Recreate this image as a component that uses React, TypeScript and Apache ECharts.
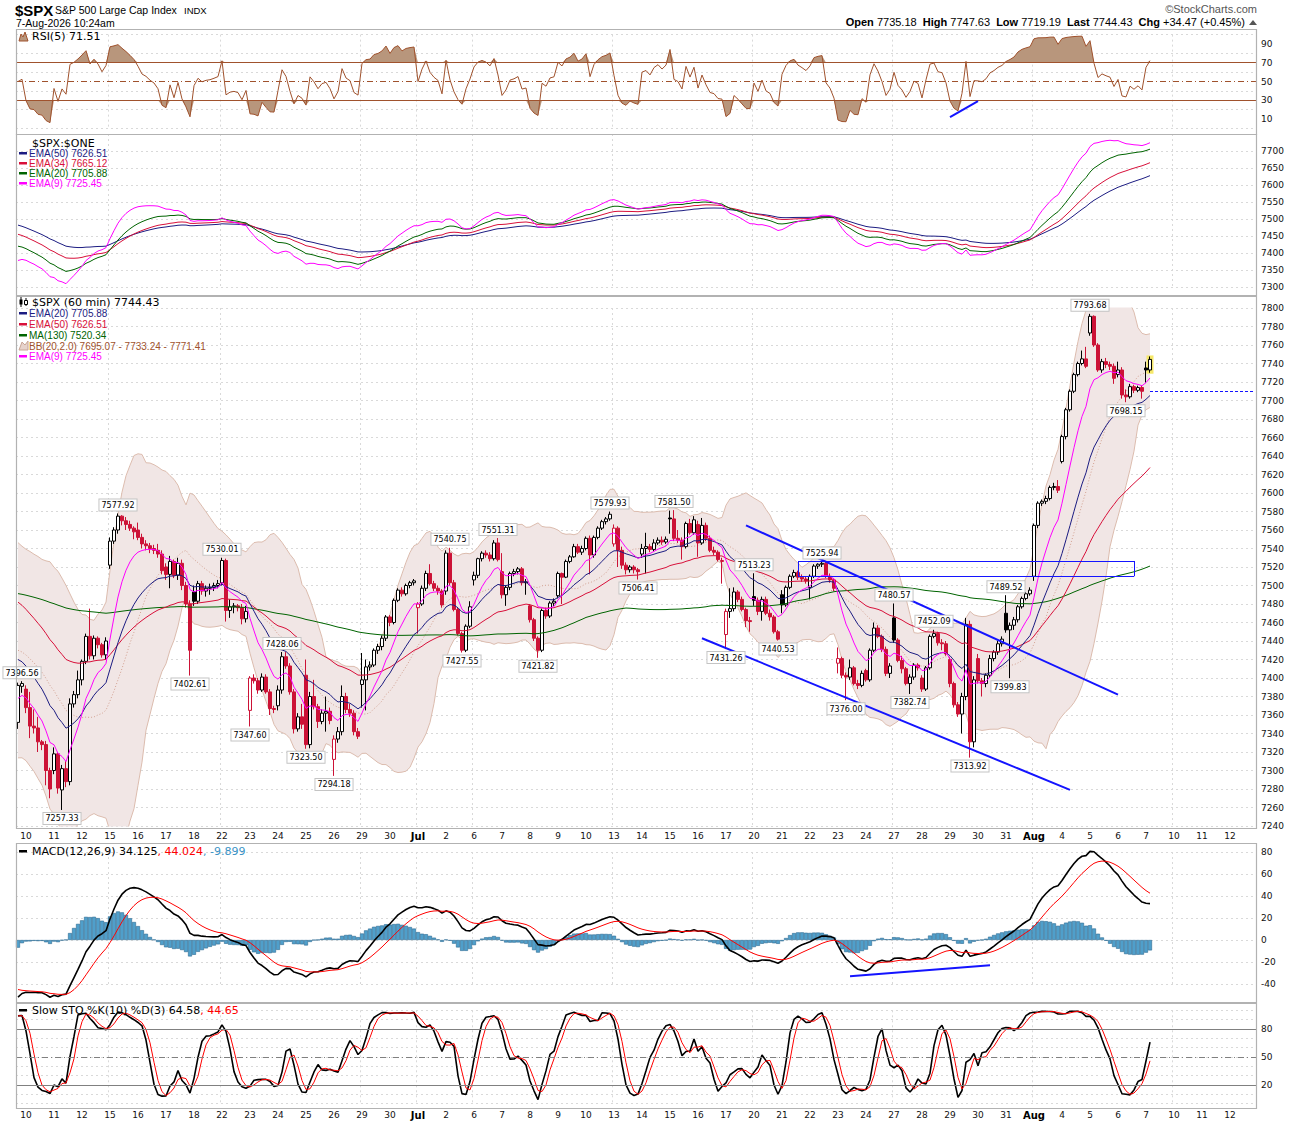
import React, { useEffect, useRef } from "react";
import * as echarts from "echarts";

// ---- 60-minute bars: [open, high, low, close], grouped by week ----
const WEEK_JUN09 = [
  [7352,7395,7345,7392],[7391,7396.56,7384,7394],
  [7388,7392,7362,7368],[7368,7385,7335,7348],[7348,7366,7340,7346],[7346,7358,7320,7331],[7331,7333,7322,7328],[7328,7332,7284,7300],[7300,7303,7270,7280],
  [7300,7325,7296,7318],[7318,7320,7275,7281],[7279,7306,7257.33,7302],[7302,7310,7282,7288],[7288,7378,7284,7372],[7372,7386,7368,7382],[7382,7408,7378,7398],
  [7398,7420,7392,7418],[7418,7448,7415,7445],[7445,7475,7420,7424],[7424,7446,7420,7443],[7443,7445,7432,7436],[7436,7438,7422,7425],[7425,7444,7420,7440],
];
const WEEK_JUN15 = [
  [7522,7552,7518,7548],[7548,7563,7545,7560],[7560,7577.92,7556,7575],[7575,7576,7565,7570],[7570,7574,7560,7566],[7566,7570,7559,7562],[7562,7564,7550,7558],
  [7560,7568,7549,7552],[7552,7556,7540,7545],[7545,7549,7538,7543],[7543,7546,7535,7540],[7540,7544,7534,7538],[7538,7545,7530,7534],[7534,7538,7512,7516],
  [7520,7524,7506,7512],[7512,7532,7497,7526],[7526,7528,7508,7511],[7511,7530,7506,7524],[7524,7528,7495,7500],[7500,7504,7476,7480],[7480,7484,7402.61,7430],
  [7493,7500,7478,7483],[7483,7505,7480,7502],[7502,7505,7490,7494],[7494,7500,7488,7497],[7497,7502,7490,7498],[7498,7503,7494,7500],[7500,7506,7497,7502],
];
const WEEK_JUN22 = [
  [7503,7530.01,7500,7527],[7527,7529,7461,7473],[7473,7485,7465,7477],[7477,7481,7470,7478],[7478,7480,7472,7476],[7476,7480,7458,7464],[7464,7478,7460,7472],
  [7365,7402,7347.6,7400],[7400,7404,7394,7397],[7397,7400,7383,7387],[7387,7405,7385,7401],[7401,7404,7383,7385],[7385,7388,7360,7367],[7367,7370,7362,7366],
  [7370,7392,7365,7387],[7387,7428.06,7383,7423],[7423,7428,7410,7413],[7413,7416,7382,7385],[7385,7388,7340,7345],[7345,7362,7342,7358],[7358,7372,7345,7350],
  [7403,7420,7323.5,7328],[7328,7385,7324,7380],[7380,7398,7366,7369],[7369,7372,7346,7353],[7353,7366,7350,7362],[7362,7380,7342,7364],[7364,7368,7350,7354],
  [7312,7338,7294.18,7334],[7334,7347,7330,7342],[7342,7392,7338,7380],[7380,7384,7362,7366],[7366,7372,7358,7362],[7362,7365,7338,7342],[7342,7346,7334,7337],
];
const WEEK_JUN29 = [
  [7393,7427,7368,7398],[7398,7420,7365,7412],[7412,7418,7408,7414],[7414,7432,7412,7430],[7430,7437,7426,7434],[7434,7446,7430,7443],[7443,7468,7440,7466],
  [7466,7468,7456,7460],[7460,7486,7458,7484],[7484,7497,7482,7495],[7495,7498,7488,7491],[7491,7502,7489,7500],[7500,7505,7497,7503],[7503,7507,7500,7505],
  [7476,7482,7448,7480],[7480,7500,7478,7497],[7497,7516,7494,7513],[7513,7523,7500,7502],[7502,7505,7494,7497],[7497,7500,7490,7494],[7494,7496,7476,7479],
  [7494,7538,7490,7535],[7535,7540.75,7500,7503],[7503,7506,7472,7474],[7474,7476,7446,7448],[7448,7450,7427.55,7430],[7430,7458,7428,7456],[7456,7483,7454,7477],
];
const WEEK_JUL06 = [
  [7506,7515,7500,7511],[7511,7530,7508,7529],[7529,7537,7526,7535],[7535,7538,7530,7533],[7533,7536,7526,7529],[7529,7549,7527,7546],[7546,7551.31,7526,7528],
  [7515,7535,7486,7490],[7490,7500,7478,7498],[7498,7515,7495,7513],[7513,7518,7510,7515],[7515,7520,7512,7518],[7518,7520,7500,7503],[7503,7507,7490,7504],
  [7478,7480,7460,7463],[7463,7465,7440,7443],[7443,7445,7421.82,7430],[7430,7475,7428,7473],[7473,7476,7464,7467],[7467,7483,7465,7481],[7481,7486,7478,7483],
  [7489,7515,7486,7513],[7513,7514,7480,7509],[7509,7528,7508,7526],[7526,7533,7524,7531],[7531,7545,7530,7542],[7542,7545,7534,7536],[7536,7543,7533,7540],
  [7540,7553,7538,7551],[7551,7554,7512,7533],[7533,7554,7530,7552],[7552,7564,7550,7562],[7562,7571,7560,7569],[7569,7574,7566,7572],[7572,7579.93,7570,7577],
];
const WEEK_JUL13 = [
  [7545,7566,7542,7562],[7562,7564,7520,7538],[7538,7542,7518,7522],[7522,7525,7512,7517],[7517,7522,7514,7520],[7520,7522,7513,7517],[7517,7519,7506.41,7515],
  [7534,7545,7530,7540],[7540,7557,7513,7542],[7542,7545,7536,7539],[7539,7550,7537,7546],[7546,7552,7544,7549],[7549,7553,7544,7547],[7547,7553,7545,7550],
  [7573,7581,7556,7572],[7572,7581.5,7548,7551],[7551,7560,7546,7549],[7549,7552,7528,7542],[7542,7569,7540,7567],[7567,7572,7555,7557],[7557,7575,7555,7571],
  [7566,7570,7531,7546],[7546,7573,7544,7565],[7565,7568,7548,7551],[7551,7554,7536,7538],[7538,7542,7533,7536],[7536,7538,7526,7528],[7526,7530,7502,7527],
  [7447,7475,7431.26,7472],[7472,7497,7465,7475],[7475,7498,7472,7493],[7493,7495,7482,7485],[7485,7488,7472,7474],[7474,7476,7455,7462],[7462,7466,7450,7461],
];
const WEEK_JUL20 = [
  [7488,7513.23,7478,7484],[7484,7487,7468,7472],[7472,7488,7462,7485],[7485,7488,7468,7470],[7470,7474,7462,7466],[7466,7468,7448,7450],[7450,7452,7440.53,7442],
  [7490,7495,7470,7479],[7479,7500,7477,7498],[7498,7512,7496,7510],[7510,7517,7508,7514],[7514,7516,7506,7509],[7509,7512,7504,7507],[7507,7510,7502,7505],
  [7498,7512,7485,7510],[7510,7523,7508,7521],[7521,7524,7518,7523],[7523,7525.94,7520,7524],[7524,7526,7508,7510],[7510,7513,7503,7506],[7506,7508,7494,7497],
  [7416,7433,7405,7421],[7421,7423,7400,7403],[7403,7406,7376,7401],[7401,7420,7398,7411],[7411,7413,7392,7394],[7394,7398,7388,7392],[7392,7408,7390,7405],
  [7408,7410,7396,7398],[7398,7432,7396,7430],[7430,7460,7428,7454],[7454,7457,7443,7445],[7445,7447,7428,7431],[7431,7434,7402,7405],[7405,7416,7400,7413],
];
const WEEK_JUL27 = [
  [7465,7480.57,7438,7441],[7441,7443,7417,7419],[7419,7424,7405,7410],[7410,7412,7392,7394],[7394,7404,7382.74,7401],[7401,7416,7398,7414],[7414,7416,7408,7411],
  [7400,7403,7385,7388],[7388,7413,7386,7411],[7411,7447,7409,7445],[7445,7452.09,7443,7448],[7448,7450,7435,7438],[7438,7442,7430,7437],[7437,7440,7424,7426],
  [7420,7423,7390,7394],[7394,7396,7368,7371],[7371,7374,7358,7361],[7361,7384,7340,7380],[7380,7465,7376,7458],[7458,7462,7313.92,7331],[7331,7402,7325,7398],
  [7421,7426,7394,7397],[7397,7400,7380,7394],[7394,7405,7390,7403],[7403,7425,7400,7421],[7421,7430,7418,7428],[7428,7440,7425,7437],[7437,7445,7434,7442],
  [7470,7489.52,7449,7452],[7452,7460,7399.83,7457],[7457,7466,7452,7463],[7463,7479,7460,7477],[7477,7488,7475,7486],[7486,7493,7484,7491],[7491,7498,7489,7495],
];
const WEEK_AUG03 = [
  [7510,7567,7505,7565],[7565,7591,7562,7589],[7589,7593,7586,7591],[7591,7597,7588,7594],[7594,7608,7592,7606],[7606,7611,7603,7607],[7607,7614,7600,7603],
  [7634,7663,7632,7661],[7661,7692,7658,7690],[7690,7712,7688,7710],[7710,7730,7708,7728],[7728,7742,7726,7740],[7740,7754,7738,7745],[7745,7758,7735,7737],
  [7773,7793.68,7770,7791],[7791,7792,7758,7760],[7760,7762,7731,7733],[7733,7745,7730,7742],[7742,7746,7735,7739],[7739,7742,7733,7737],[7737,7740,7718,7724],
  [7728,7742,7725,7733],[7733,7736,7702,7706],[7706,7712,7698.15,7704],[7704,7718,7702,7715],[7715,7717,7708,7711],[7711,7716,7709,7714],[7714,7716,7702,7709.96],
  [7735.18,7742,7719.19,7733],[7733,7747.63,7730,7744.43],
];

// ---- x axis: trading days (Jun 9 partial, then 7 hourly bars per day) ----
const DAY_LABELS = ["9","10","11","12","15","16","17","18","22","23","24","25","26","29","30","Jul","2","6","7","8","9","10","13","14","15","16","17","20","21","22","23","24","27","28","29","30","31","Aug","4","5","6","7","10","11","12"];
const GRID_DAYS = [4, 8, 13, 15, 17, 22, 27, 32, 37, 42];
const FIRST_DAY_BARS = 2;
const BARS_PER_DAY = 7;

// ---- tick labels ----
const RSI_TICKS = [10, 30, 50, 70, 90];
const STO_TICKS = [20, 50, 80];

// ---- indicator seeds (values read at the left edge) ----
const SEED_EMA9 = 7378, SEED_EMA20 = 7420, SEED_EMA34 = 7455, SEED_EMA50 = 7482;
const SEED_MA130 = 7492, SEED_BB_MEAN = 7432, SEED_BB_STD = 59;
const SEED_EMA12 = 7400, SEED_EMA26 = 7452, SEED_SIGNAL = -45;
const SEED_RSI_GAIN = 5, SEED_RSI_LOSS = 5;

// ---- annotations ----
const PRICE_NOTES: [number, number, boolean][] = [
  [1,7396.56,true],[11,7257.33,false],[25,7577.92,true],[43,7402.61,false],[51,7530.01,true],[58,7347.60,false],
  [66,7428.06,true],[72,7323.50,false],[79,7294.18,false],[108,7540.75,true],[111,7427.55,false],[120,7551.31,true],
  [130,7421.82,false],[148,7579.93,true],[155,7506.41,false],[164,7581.50,true],[177,7431.26,false],[184,7513.23,true],
  [190,7440.53,false],[201,7525.94,true],[207,7376.00,false],[219,7480.57,true],[223,7382.74,false],[229,7452.09,true],
  [238,7313.92,false],[247,7489.52,true],[248,7399.83,false],[268,7793.68,true],[277,7698.15,false],
];
const CHANNEL_UPPER = [[182, 7565], [275, 7382]];
const CHANNEL_LOWER = [[171, 7443], [263, 7279]];
const RESIST_BOX_X = [195, 279];
const RESIST_BOX_Y = [7510, 7526.5];
const RSI_TREND = [[233, 12], [240, 29]];
const MACD_TREND = [[208, -33], [243, -23]];
const PREV_CLOSE = 7709.96;

const FONT_V = '"DejaVu Sans", Verdana, sans-serif';
const FONT_T = '"Liberation Sans", Arial, sans-serif';
const RED = "#cc1236";
const NAVY = "#1c1c82";
const CRIMSON = "#d8103a";
const DKGREEN = "#006400";
const MAGENTA = "#ff00ff";
const BROWN = "#a0522d";
const BLUE = "#1414ff";

function buildOption() {
  const BARS = [...WEEK_JUN09, ...WEEK_JUN15, ...WEEK_JUN22, ...WEEK_JUN29, ...WEEK_JUL06, ...WEEK_JUL13, ...WEEK_JUL20, ...WEEK_JUL27, ...WEEK_AUG03];
  const H = BARS.map((b) => b[1]);
  const L = BARS.map((b) => b[2]);
  const C = BARS.map((b) => b[3]);
  const LAST = BARS.length - 1;

  const CATS: string[] = [];
  const DAY_START: boolean[] = [];
  const CAT_LABEL: string[] = [];
  const GRID_START: boolean[] = [];
  DAY_LABELS.forEach((lab, d) => {
    const n = d === 0 ? FIRST_DAY_BARS : BARS_PER_DAY;
    for (let j = 0; j < n; j++) {
      CATS.push(d + "_" + j);
      DAY_START.push(d > 0 && j === 0);
      CAT_LABEL.push(lab);
      GRID_START.push(j === 0 && GRID_DAYS.indexOf(d) >= 0);
    }
  });

  const ema = (src: number[], n: number, seed: number) => {
    const a = 2 / (n + 1);
    let e = seed;
    return src.map((v, i) => {
      if (i > 0) e = e + a * (v - e);
      return e;
    });
  };
  const smaSeeded = (src: number[], n: number, seed: number) =>
    src.map((_, i) => {
      let s = 0;
      for (let j = i - n + 1; j <= i; j++) s += j < 0 ? seed : src[j];
      return s / n;
    });
  const smaAvail = (src: number[], n: number) =>
    src.map((_, i) => {
      const s0 = Math.max(0, i - n + 1);
      let t = 0;
      for (let j = s0; j <= i; j++) t += src[j];
      return t / (i - s0 + 1);
    });

  const ema9 = ema(C, 9, SEED_EMA9);
  const ema20 = ema(C, 20, SEED_EMA20);
  const ema34 = ema(C, 34, SEED_EMA34);
  const ema50 = ema(C, 50, SEED_EMA50);
  const ma130 = smaSeeded(C, 130, SEED_MA130);

  const bbMid: number[] = [], bbUp: number[] = [], bbLo: number[] = [];
  C.forEach((_, i) => {
    const n = 20;
    let sum = 0, cnt = 0;
    for (let j = i - n + 1; j <= i; j++) if (j >= 0) { sum += C[j]; cnt++; }
    const miss = n - cnt;
    const mean = (sum + miss * SEED_BB_MEAN) / n;
    let v = 0;
    for (let j = i - n + 1; j <= i; j++) if (j >= 0) v += (C[j] - mean) ** 2;
    v += miss * (SEED_BB_STD ** 2 + (SEED_BB_MEAN - mean) ** 2);
    const sd = Math.sqrt(v / n);
    bbMid.push(mean);
    bbUp.push(mean + 2 * sd);
    bbLo.push(mean - 2 * sd);
  });

  const e12 = ema(C, 12, SEED_EMA12);
  const e26 = ema(C, 26, SEED_EMA26);
  const macd = e12.map((v, i) => v - e26[i]);
  const signal = ema(macd, 9, SEED_SIGNAL);
  const hist = macd.map((v, i) => v - signal[i]);

  let ag = SEED_RSI_GAIN, al = SEED_RSI_LOSS;
  const rsi = C.map((c, i) => {
    if (i > 0) {
      const d = c - C[i - 1];
      ag = (ag * 4 + Math.max(d, 0)) / 5;
      al = (al * 4 + Math.max(-d, 0)) / 5;
    }
    return al === 0 ? 100 : 100 - 100 / (1 + ag / al);
  });

  const fastK = C.map((c, i) => {
    let hh = -Infinity, ll = Infinity;
    for (let j = Math.max(0, i - 9); j <= i; j++) { hh = Math.max(hh, H[j]); ll = Math.min(ll, L[j]); }
    return hh === ll ? 50 : ((c - ll) / (hh - ll)) * 100;
  });
  const slowK = smaAvail(fastK, 3);
  const slowD = smaAvail(slowK, 3);

  const candleData = BARS.map((b, i) => {
    const [o, h, l, c] = b;
    const pc = i > 0 ? C[i - 1] : o;
    const up = c >= o;
    const higher = c >= pc;
    const fill = up ? "#ffffff" : higher ? "#000000" : RED;
    const stroke = higher ? "#000000" : RED;
    return { value: [o, c, l, h], itemStyle: { color: fill, color0: fill, borderColor: stroke, borderColor0: stroke } };
  });

  const gridLine = { color: "#d9d9d9", type: [2, 3] as any, width: 1 };
  const xAxis = (gi: number, showLabel: boolean, margin: number) => ({
    type: "category",
    gridIndex: gi,
    data: CATS,
    boundaryGap: true,
    axisLine: { show: false },
    axisTick: { show: false },
    splitLine: { show: true, interval: (i: number) => GRID_START[i], lineStyle: gridLine },
    axisLabel: showLabel
      ? {
          show: true,
          interval: (i: number) => DAY_START[i],
          margin,
          fontSize: 9,
          fontFamily: FONT_V,
          color: "#111",
          formatter: (_v: string, i: number) => {
            const t = CAT_LABEL[i];
            return t === "Jul" || t === "Aug" ? "{b|" + t + "}" : t;
          },
          rich: { b: { fontWeight: "bold", fontSize: 10, fontFamily: FONT_V, color: "#000" } },
        }
      : { show: false },
  });
  const yAxis = (gi: number, min: number, max: number, interval: number, label: any) => ({
    type: "value",
    gridIndex: gi,
    position: "right",
    min,
    max,
    interval,
    axisLine: { show: false },
    axisTick: { show: false },
    splitLine: { show: true, lineStyle: gridLine },
    axisLabel: { margin: 5, fontSize: 9, fontFamily: FONT_V, color: "#111", formatter: (v: number) => String(v), ...label },
  });

  const line = (gi: number, data: number[], color: string, width = 1, extra: any = {}) => ({
    type: "line",
    xAxisIndex: gi,
    yAxisIndex: gi,
    data,
    symbol: "none",
    silent: true,
    clip: false,
    z: 3,
    lineStyle: { color, width },
    itemStyle: { color },
    ...extra,
  });

  const hidden = { lineStyle: { width: 0, opacity: 0 } };
  const RSI_FILL = "#b8967c";
  const blueLine = { color: BLUE, width: 2, type: "solid" };
  const thinBlue = { color: BLUE, width: 1, type: "solid" };
  const pair = (pts: number[][], style: any) => [
    { coord: pts[0], lineStyle: style },
    { coord: pts[1], lineStyle: style },
  ];
  const [bx0, bx1] = RESIST_BOX_X;
  const [by0, by1] = RESIST_BOX_Y;

  const series: any[] = [
    // RSI panel
    line(0, C.map(() => 70), BROWN, 0, { stack: "ru", z: 1, ...hidden }),
    line(0, rsi.map((r) => Math.max(r - 70, 0)), RSI_FILL, 0, { stack: "ru", z: 1, ...hidden, areaStyle: { color: RSI_FILL, opacity: 1 } }),
    line(0, rsi.map((r) => Math.min(r, 30)), BROWN, 0, { stack: "rl", z: 1, ...hidden }),
    line(0, rsi.map((r) => 30 - Math.min(r, 30)), RSI_FILL, 0, { stack: "rl", z: 1, ...hidden, areaStyle: { color: RSI_FILL, opacity: 1 } }),
    line(0, rsi, BROWN, 1, {
      markLine: {
        silent: true,
        symbol: "none",
        label: { show: false },
        data: [
          { yAxis: 70, lineStyle: { color: BROWN, width: 1, type: "solid" } },
          { yAxis: 30, lineStyle: { color: BROWN, width: 1, type: "solid" } },
          { yAxis: 50, lineStyle: { color: BROWN, width: 1, type: [6, 3, 1, 3] } },
          pair(RSI_TREND, blueLine),
        ],
      },
    }),
    // $SPX:$ONE EMA panel
    line(1, ema50, NAVY),
    line(1, ema34, CRIMSON),
    line(1, ema20, DKGREEN),
    line(1, ema9, MAGENTA),
    // Main price panel: Bollinger band behind everything
    line(2, bbLo, "#dcbcae", 1, { stack: "bb", clip: true, z: 1 }),
    line(2, bbUp.map((u, i) => u - bbLo[i]), "#dcbcae", 1, { stack: "bb", clip: true, z: 1, areaStyle: { color: "#f1e6e5", opacity: 1 } }),
    line(2, bbMid, "#d2a090", 1, { clip: true, z: 1, lineStyle: { color: "#d2a090", width: 1, type: [1, 2] } }),
    {
      type: "custom",
      xAxisIndex: 2,
      yAxisIndex: 2,
      silent: true,
      z: 1.5,
      data: [[LAST, L[LAST], H[LAST]]],
      renderItem: (_p: any, api: any) => {
        const top = api.coord([api.value(0), api.value(2)]);
        const bot = api.coord([api.value(0), api.value(1)]);
        return { type: "rect", shape: { x: top[0] - 3.5, y: top[1] - 1, width: 7, height: bot[1] - top[1] + 2 }, style: { fill: "#f6e86a" } };
      },
    },
    {
      type: "candlestick",
      xAxisIndex: 2,
      yAxisIndex: 2,
      data: candleData,
      barWidth: 3,
      silent: true,
      z: 2,
      itemStyle: { borderWidth: 1 },
    },
    line(2, ma130, DKGREEN, 1, { clip: true }),
    line(2, ema50, CRIMSON, 1, { clip: true }),
    line(2, ema20, NAVY, 1, { clip: true }),
    line(2, ema9, MAGENTA, 1, {
      clip: true,
      markPoint: {
        silent: true,
        symbol: "circle",
        symbolSize: 0,
        data: PRICE_NOTES.map(([k, p, up]) => ({
          coord: [k, p],
          value: p,
          itemStyle: { color: "rgba(0,0,0,0)" },
          label: {
            show: true,
            position: up ? "top" : "bottom",
            distance: 3,
            formatter: p.toFixed(2),
            fontSize: 8,
            fontFamily: FONT_V,
            color: "#000",
            backgroundColor: "#ffffff",
            borderColor: "#c4c4c4",
            borderWidth: 1,
            padding: [2, 2, 1, 2],
          },
        })),
      },
      markLine: {
        silent: true,
        symbol: "none",
        label: { show: false },
        data: [
          pair(CHANNEL_UPPER, blueLine),
          pair(CHANNEL_LOWER, blueLine),
          pair([[bx0, by0], [bx1, by0]], thinBlue),
          pair([[bx0, by1], [bx1, by1]], thinBlue),
          pair([[bx0, by0], [bx0, by1]], thinBlue),
          pair([[bx1, by0], [bx1, by1]], thinBlue),
          pair([[LAST, PREV_CLOSE], [CATS.length - 1, PREV_CLOSE]], { color: BLUE, width: 1, type: [3, 2] }),
        ],
      },
    }),
    // MACD panel
    {
      type: "bar",
      xAxisIndex: 3,
      yAxisIndex: 3,
      data: hist,
      silent: true,
      z: 2,
      barCategoryGap: "0%",
      itemStyle: { color: "#4f9fcb", borderColor: "#2b6a92", borderWidth: 0.6 },
    },
    line(3, macd, "#000000", 1.6, {
      markLine: { silent: true, symbol: "none", label: { show: false }, data: [pair(MACD_TREND, blueLine)] },
    }),
    line(3, signal, "#ff0000", 1),
    // Slow stochastic panel
    line(4, slowK, "#000000", 1.6, {
      markLine: {
        silent: true,
        symbol: "none",
        label: { show: false },
        data: [
          { yAxis: 80, lineStyle: { color: "#808080", width: 1, type: "solid" } },
          { yAxis: 20, lineStyle: { color: "#808080", width: 1, type: "solid" } },
          { yAxis: 50, lineStyle: { color: "#808080", width: 1, type: [6, 3, 1, 3] } },
        ],
      },
    }),
    line(4, slowD, "#ff0000", 1),
  ];

  const txt = (x: number, y: number, text: string, font: string, fill = "#000", extra: any = {}) => ({
    type: "text",
    x,
    y,
    silent: true,
    z: 100,
    style: { text, font, fill, textVerticalAlign: "middle", ...extra },
  });
  const dash = (x: number, y: number, color: string) => ({
    type: "rect",
    silent: true,
    z: 100,
    shape: { x, y: y - 1, width: 8, height: 2.5 },
    style: { fill: color },
  });
  const frame = (y0: number, y1: number) => ({
    type: "rect",
    silent: true,
    z: 90,
    shape: { x: 16.5, y: y0 + 0.5, width: 1240, height: y1 - y0 },
    style: { fill: "none", stroke: "#b2b2b2", lineWidth: 1.2 },
  });
  const F11V = "11px " + FONT_V;
  const F10T = "10px " + FONT_T;

  const graphic: any[] = [
    frame(29, 134), frame(134, 295), frame(296, 828), frame(843, 1002), frame(1003, 1108),
    txt(15, 10, "$SPX", "bold 15px " + FONT_T),
    txt(55, 10, "S&P 500 Large Cap Index", "10.5px " + FONT_T),
    txt(184, 10, "INDX", "9.5px " + FONT_T),
    txt(16, 23, "7-Aug-2026 10:24am", "10.5px " + FONT_T),
    txt(1257, 9, "©StockCharts.com", "11px " + FONT_T, "#555", { textAlign: "right" }),
    txt(1245, 22, "{b|Open} 7735.18  {b|High} 7747.63  {b|Low} 7719.19  {b|Last} 7744.43  {b|Chg} +34.47 (+0.45%)", "11px " + FONT_T, "#000", {
      textAlign: "right",
      rich: { b: { font: "bold 11px " + FONT_T, fill: "#000" } },
    }),
    { type: "polygon", silent: true, z: 100, shape: { points: [[1249, 25], [1253, 20], [1257, 25]] }, style: { fill: "#555" } },
    // RSI title
    { type: "polygon", silent: true, z: 100, shape: { points: [[19, 41], [21, 34], [23, 37], [25, 32], [28, 41]] }, style: { fill: RSI_FILL, stroke: BROWN, lineWidth: 1 } },
    txt(32, 36, "RSI(5) 71.51", F11V),
    // EMA panel legend
    txt(32, 143, "$SPX:$ONE", F11V),
    dash(19, 153, NAVY), txt(29, 153, "EMA(50) 7626.51", F10T, NAVY),
    dash(19, 163, CRIMSON), txt(29, 163, "EMA(34) 7665.12", F10T, CRIMSON),
    dash(19, 173, DKGREEN), txt(29, 173, "EMA(20) 7705.88", F10T, DKGREEN),
    dash(19, 183, MAGENTA), txt(29, 183, "EMA(9) 7725.45", F10T, MAGENTA),
    // main legend
    { type: "line", silent: true, z: 100, shape: { x1: 21, y1: 297, x2: 21, y2: 307 }, style: { stroke: "#000", lineWidth: 1 } },
    { type: "rect", silent: true, z: 100, shape: { x: 19.5, y: 299.5, width: 3, height: 5 }, style: { fill: "#000" } },
    { type: "line", silent: true, z: 100, shape: { x1: 26, y1: 298, x2: 26, y2: 306 }, style: { stroke: "#000", lineWidth: 1 } },
    { type: "rect", silent: true, z: 100, shape: { x: 24.5, y: 300.5, width: 3, height: 4 }, style: { fill: "#fff", stroke: "#000", lineWidth: 1 } },
    txt(32, 302, "$SPX (60 min) 7744.43", F11V),
    dash(19, 313, NAVY), txt(29, 313, "EMA(20) 7705.88", F10T, NAVY),
    dash(19, 324, CRIMSON), txt(29, 324, "EMA(50) 7626.51", F10T, CRIMSON),
    dash(19, 335, DKGREEN), txt(29, 335, "MA(130) 7520.34", F10T, DKGREEN),
    { type: "polygon", silent: true, z: 100, shape: { points: [[19, 350], [22, 342], [25, 345], [28, 341], [28, 350]] }, style: { fill: "#e6d2cb", stroke: "#c9a595", lineWidth: 1 } },
    txt(29, 346, "BB(20,2.0) 7695.07 - 7733.24 - 7771.41", F10T, BROWN),
    dash(19, 356, MAGENTA), txt(29, 356, "EMA(9) 7725.45", F10T, MAGENTA),
    // MACD legend
    dash(19, 851, "#000"),
    txt(32, 851, "{k|MACD(12,26,9) 34.125}{r|, 44.024}{c|, -9.899}", F11V, "#000", {
      rich: { k: { font: F11V, fill: "#000" }, r: { font: F11V, fill: "#ff0000" }, c: { font: F11V, fill: "#3a93c6" } },
    }),
    // STO legend
    dash(19, 1010, "#000"),
    txt(32, 1010, "{k|Slow STO %K(10) %D(3) 64.58}{r|, 44.65}", F11V, "#000", {
      rich: { k: { font: F11V, fill: "#000" }, r: { font: F11V, fill: "#ff0000" } },
    }),
  ];

  return {
    animation: false,
    backgroundColor: "#ffffff",
    grid: [
      { left: 16, top: 34.6, width: 1240, height: 93.8 },
      { left: 16, top: 134, width: 1240, height: 153 },
      { left: 16, top: 308, width: 1240, height: 518 },
      { left: 16, top: 852, width: 1240, height: 132 },
      { left: 16, top: 1010.3, width: 1240, height: 93.4 },
    ],
    xAxis: [xAxis(0, false, 0), xAxis(1, false, 0), xAxis(2, true, 5), xAxis(3, false, 0), xAxis(4, true, 7)],
    yAxis: [
      yAxis(0, 0, 100, 20, { customValues: RSI_TICKS }),
      yAxis(1, 7300, 7750, 50, { showMaxLabel: false }),
      yAxis(2, 7240, 7800, 20, {}),
      yAxis(3, -40, 80, 20, {}),
      yAxis(4, 0, 100, 10, { customValues: STO_TICKS }),
    ],
    series,
    graphic,
  };
}

export default function App() {
  const ref = useRef<HTMLDivElement>(null);
  useEffect(() => {
    document.body.style.margin = "0";
    const chart = echarts.init(ref.current as HTMLDivElement, null, { renderer: "svg" });
    chart.setOption(buildOption() as any);
    return () => chart.dispose();
  }, []);
  return <div ref={ref} style={{ width: 1300, height: 1125, background: "#fff" }} />;
}
